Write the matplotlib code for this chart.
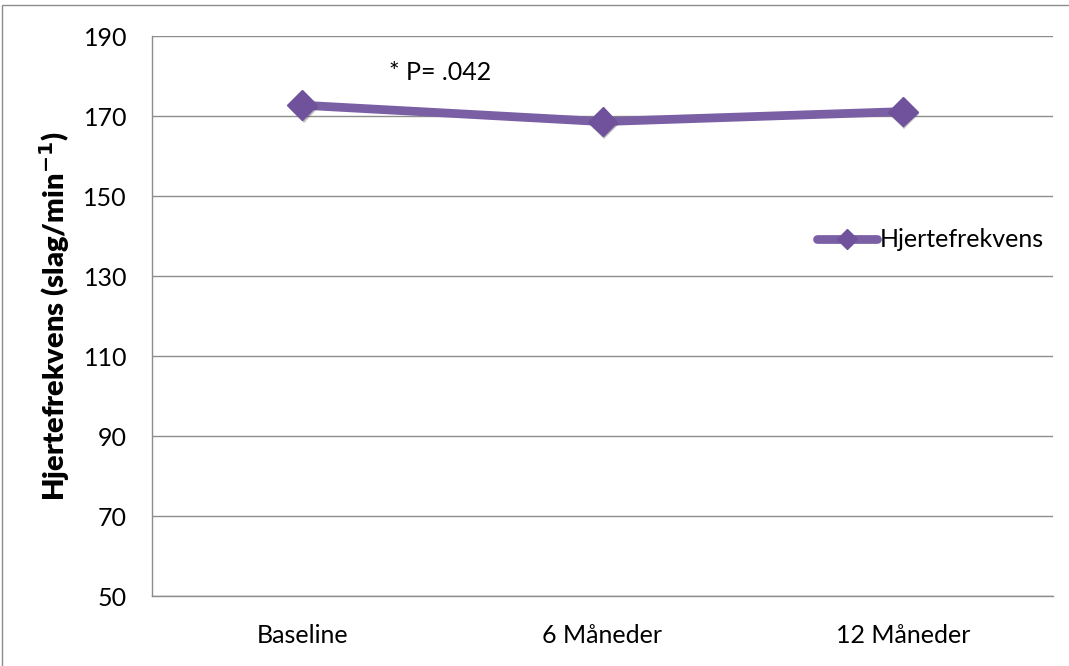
import matplotlib.pyplot as plt
import matplotlib.patheffects as pe
from matplotlib.patches import Rectangle

periods = ["Baseline", "6 Måneder", "12 Måneder"]
heart_rate = [172.7, 168.6, 171.1]
y_ticks = [50, 70, 90, 110, 130, 150, 170, 190]

plt.rcParams['font.family'] = ['Lato', 'DejaVu Sans']

LINE_COLOR = "#7b5fa5"
MARKER_COLOR = "#6f519c"
GRID_COLOR = "#8c8c8c"
FS = 18

fig = plt.figure(figsize=(10.69, 6.66), dpi=100)
ax = fig.add_axes([152 / 1069, 1 - 596 / 666, 901 / 1069, 560 / 666])

# outer chart border
fig.patches.append(Rectangle((2 / 1069, -0.05), 1.1, 1 - 5 / 666 + 0.05,
                             transform=fig.transFigure, fill=False,
                             edgecolor="#8c8c8c", linewidth=1.0))

x = range(len(periods))
ax.plot(x, heart_rate, color=LINE_COLOR, linewidth=6.3, solid_capstyle="round",
        zorder=3, label="Hjertefrekvens")
ax.plot(x, heart_rate, linestyle="none", marker="D", markersize=15,
        markerfacecolor=MARKER_COLOR, markeredgecolor=MARKER_COLOR, zorder=4,
        path_effects=[pe.SimplePatchShadow(offset=(1, -2), alpha=0.35,
                                           shadow_rgbFace="#444444"),
                      pe.Normal()])

ax.set_xlim(-0.5, len(periods) - 0.5)
ax.set_ylim(50, 190)
ax.set_yticks(y_ticks)
ax.set_xticks(list(x))
ax.set_xticklabels(periods)
ax.tick_params(axis="both", length=0, labelsize=FS, colors="#000000")
ax.tick_params(axis="y", pad=18)
ax.tick_params(axis="x", pad=20)

ax.grid(axis="y", color=GRID_COLOR, linewidth=1.0)
ax.set_axisbelow(True)
for side in ["top", "right"]:
    ax.spines[side].set_visible(False)
for side in ["left", "bottom"]:
    ax.spines[side].set_color(GRID_COLOR)
    ax.spines[side].set_linewidth(1.0)

ax.set_ylabel(r"Hjertefrekvens (slag/min$^{\mathbf{-1}}$)", fontsize=21,
              fontweight="heavy", labelpad=8)

ax.text(0.29, 181, "* P= .042", fontsize=FS, ha="left", va="center")

leg = ax.legend(loc="center left", bbox_to_anchor=(0.738, 0.636), frameon=False,
                fontsize=FS, handlelength=2.4, handletextpad=0.1,
                borderaxespad=0, borderpad=0)
for h in leg.legend_handles:
    h.set_marker("D")
    h.set_markersize(10)
    h.set_markerfacecolor(MARKER_COLOR)
    h.set_markeredgecolor(MARKER_COLOR)

fig.savefig("out.png", dpi=100)
